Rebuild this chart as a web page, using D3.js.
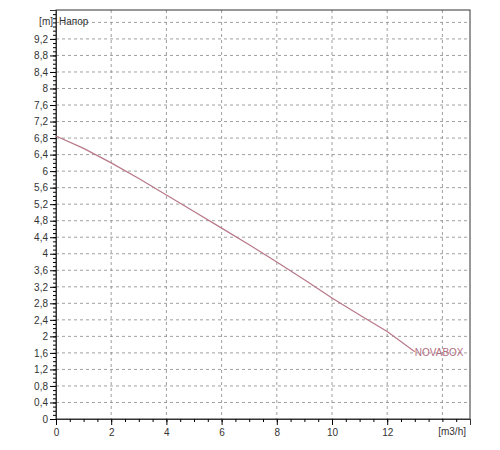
<!DOCTYPE html><html><head><meta charset="utf-8"><script src="https://cdn.jsdelivr.net/npm/d3@7"></script>
<style>body{margin:0;background:#fff}text{font-family:Arial,"Liberation Sans",sans-serif;font-size:10px;fill:#333}</style></head><body><svg id="c" width="500" height="450"></svg><script>
const flow=[0,1,2,3,4,5,6,7,8,9,10,11,12,13];
const head=[6.85,6.55,6.2,5.82,5.42,5.02,4.62,4.22,3.8,3.37,2.93,2.52,2.12,1.63];
const yTicks=[0,0.4,0.8,1.2,1.6,2,2.4,2.8,3.2,3.6,4,4.4,4.8,5.2,5.6,6,6.4,6.8,7.2,7.6,8,8.4,8.8,9.2];
const xTicks=[0,2,4,6,8,10,12];
const svg=d3.select("#c");
const L=56,R=470,T=10,B=419;
const x=d3.scaleLinear().domain([0,15]).range([L,R]);
const y=d3.scaleLinear().domain([0,9.9]).range([B,T]);
const g=svg.append("g");
yTicks.slice(1).concat([9.6]).forEach(v=>g.append("line").attr("x1",L).attr("x2",R).attr("y1",y(v)).attr("y2",y(v)).attr("stroke","#888").attr("stroke-dasharray","3,3").attr("stroke-width",0.8));
xTicks.slice(1).concat([14]).forEach(v=>g.append("line").attr("y1",T).attr("y2",B).attr("x1",x(v)).attr("x2",x(v)).attr("stroke","#888").attr("stroke-dasharray","3,3").attr("stroke-width",0.8));
svg.append("rect").attr("x",L).attr("y",T).attr("width",R-L).attr("height",B-T).attr("fill","none").attr("stroke","#333");
const ya=svg.append("g").attr("transform",`translate(${L},0)`).call(d3.axisLeft(y).tickValues(yTicks).tickFormat(d=>String(d).replace(".",",")).tickSize(6).tickPadding(2));
svg.append("g").attr("transform",`translate(${L},0)`).call(d3.axisLeft(y).tickValues(d3.range(0,99).map(i=>i/10)).tickFormat("").tickSize(3));
svg.append("g").attr("transform",`translate(0,${B})`).call(d3.axisBottom(x).tickValues(xTicks).tickSize(6).tickPadding(4));
svg.append("g").attr("transform",`translate(0,${B})`).call(d3.axisBottom(x).tickValues(d3.range(0,30).map(i=>i/2)).tickFormat("").tickSize(3));
svg.selectAll(".domain").attr("stroke","#333");
svg.append("text").attr("x",L-3).attr("y",y(9.6)+3).attr("text-anchor","end").text("[m]");
svg.append("text").attr("x",L+3).attr("y",y(9.6)+3).text("Напор");
svg.append("text").attr("x",R-4).attr("y",B+16).attr("text-anchor","end").text("[m3/h]");
svg.append("path").datum(flow.map((f,i)=>[f,head[i]])).attr("fill","none").attr("stroke","#b87888").attr("stroke-width",1.2).attr("d",d3.line().x(d=>x(d[0])).y(d=>y(d[1])));
svg.append("text").attr("x",x(13)).attr("y",y(1.63)+4).attr("fill","#b06c80").style("fill","#b06c80").text("NOVABOX");
</script></body></html>
